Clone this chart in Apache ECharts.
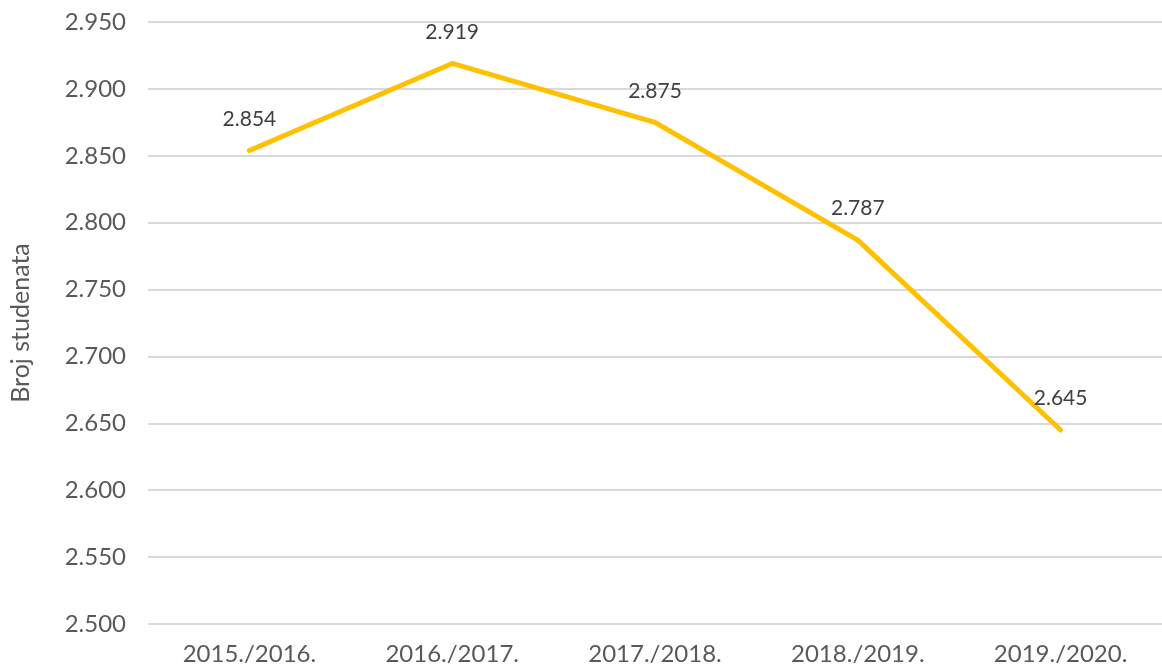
<!DOCTYPE html>
<html>
<head>
<meta charset="utf-8">
<script src="https://cdn.jsdelivr.net/npm/echarts@6/dist/echarts.min.js"></script>
<style>html,body{margin:0;padding:0;background:#fff}#c{width:1162px;height:666px}</style>
</head>
<body>
<div id="c"></div>
<script>
const categories = ['2015./2016.', '2016./2017.', '2017./2018.', '2018./2019.', '2019./2020.'];
const students = [2854, 2919, 2875, 2787, 2645];
const yAxisName = 'Broj studenata';

function fmt(v) {
  const s = String(Math.round(v));
  return s.replace(/\B(?=(\d{3})+(?!\d))/g, '.');
}

const chart = echarts.init(document.getElementById('c'));
chart.setOption({
  animation: false,
  textStyle: { fontFamily: 'Lato, "Open Sans", sans-serif' },
  grid: { left: 145, right: -7, top: 22, bottom: 42, containLabel: false },
  xAxis: {
    type: 'category',
    data: categories,
    boundaryGap: true,
    axisLine: { show: false },
    axisTick: { show: false },
    axisLabel: { color: '#595959', fontSize: 24, margin: 18 }
  },
  yAxis: {
    type: 'value',
    min: 2500, max: 2950, interval: 50,
    name: yAxisName,
    nameLocation: 'middle',
    nameGap: 115,
    nameTextStyle: { color: '#595959', fontSize: 25 },
    axisLine: { show: false },
    axisTick: { show: false },
    axisLabel: { color: '#595959', fontSize: 24, margin: 22, formatter: fmt },
    splitLine: { lineStyle: { color: '#d9d9d9', width: 2 } }
  },
  series: [{
    type: 'line',
    data: students,
    symbol: 'circle',
    symbolSize: 0,
    showSymbol: true,
    lineStyle: { color: '#FFC000', width: 5, cap: 'round', join: 'round' },
    itemStyle: { color: '#FFC000' },
    label: {
      show: true, position: 'top', distance: 21,
      color: '#404040', fontSize: 21,
      formatter: p => fmt(p.value)
    }
  }]
});
</script>
</body>
</html>
